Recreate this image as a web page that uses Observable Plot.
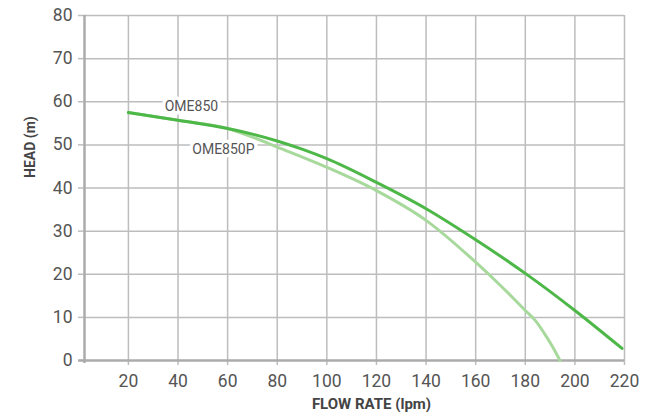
<!DOCTYPE html>
<html><head><meta charset="utf-8">
<script src="https://cdn.jsdelivr.net/npm/d3@7"></script>
<script src="https://cdn.jsdelivr.net/npm/@observablehq/plot@0.6"></script>
<style>
html,body{margin:0;padding:0;background:#fff;}
</style>
</head><body><div id="chart"></div>
<script>
const flowTicks = [20, 40, 60, 80, 100, 120, 140, 160, 180, 200, 220];
const headTicks = [0, 10, 20, 30, 40, 50, 60, 70, 80];
const ome850Flow = [20, 40, 60, 70, 80, 90, 100, 120, 140, 160, 180, 200, 219];
const ome850Head = [57.5, 55.7, 53.8, 52.5, 50.9, 49.0, 46.8, 41.3, 35.2, 28.0, 20.2, 11.6, 2.8];
const ome850pFlow = [20, 40, 60, 70, 80, 100, 120, 140, 160, 170, 180, 184, 188, 191, 194];
const ome850pHead = [57.5, 55.7, 53.8, 51.8, 49.5, 44.8, 39.4, 32.5, 22.8, 17.4, 11.6, 9.3, 6.0, 3.2, 0];
const seriesNames = ["OME850", "OME850P"];
const labelFlow = [45.4, 58.3];
const labelHead = [58.9, 48.9];
const xTitle = "FLOW RATE (lpm)";
const yTitle = "HEAD (m)";

const ome850 = ome850Flow.map((f, i) => ({flow: f, head: ome850Head[i]}));
const ome850p = ome850pFlow.map((f, i) => ({flow: f, head: ome850pHead[i]}));
const labels = seriesNames.map((n, i) => ({name: n, flow: labelFlow[i], head: labelHead[i]}));

const grid = "#bdbdbd";
const axisLine = "#ababab";

const chart = Plot.plot({
  width: 661, height: 418,
  marginLeft: 84, marginRight: 37, marginTop: 15, marginBottom: 58,
  style: {fontFamily: "Roboto, sans-serif", background: "#fff"},
  x: {domain: [2.3, 220]},
  y: {domain: [0, 80]},
  marks: [
    Plot.ruleX(flowTicks, {y1: 0, y2: 80, stroke: grid, strokeWidth: 1.5}),
    Plot.ruleY(headTicks.filter(d => d > 0), {stroke: grid, strokeWidth: 1.5}),
    Plot.axisX({ticks: flowTicks, tickSize: 5, tickPadding: 9, fontSize: 17.5, stroke: grid, strokeWidth: 1.5, fill: "#555", label: null}),
    Plot.axisY({ticks: headTicks, tickSize: 6, tickPadding: 6, fontSize: 17.5, stroke: grid, strokeWidth: 1.5, fill: "#555", label: null}),
    Plot.ruleY([0], {x1: 0, x2: 220, stroke: axisLine, strokeWidth: 2.5}),
    Plot.ruleX([2.3], {y1: -0.7, y2: 80, stroke: axisLine, strokeWidth: 2.5}),
    Plot.text(labels, {x: "flow", y: "head", text: "name", fontSize: 14, fill: "#555", stroke: "white", strokeWidth: 7, paintOrder: "stroke"}),
    Plot.line(ome850p, {x: "flow", y: "head", stroke: "#a8d99c", strokeWidth: 3, curve: "monotone-x"}),
    Plot.line(ome850, {x: "flow", y: "head", stroke: "#4db848", strokeWidth: 3, curve: "monotone-x"}),
    Plot.text([xTitle], {frameAnchor: "bottom", dy: 48, dx: 17, fontSize: 15, fontWeight: "bold", fill: "#444"}),
    Plot.text([yTitle], {frameAnchor: "left", rotate: -90, dx: -54, dy: -10, fontSize: 14, fontWeight: "bold", fill: "#444"})
  ]
});
document.getElementById("chart").appendChild(chart);
</script>
</body></html>
